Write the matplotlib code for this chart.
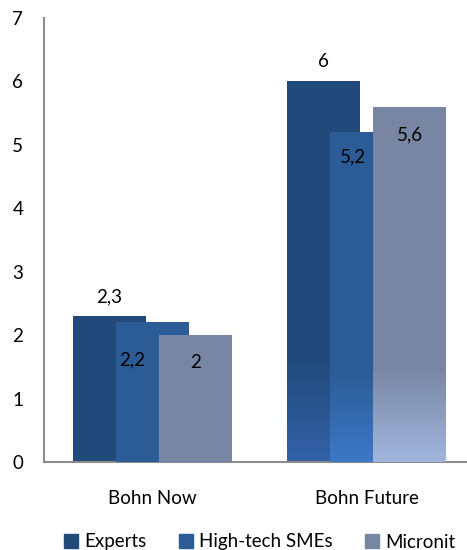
import numpy as np
import matplotlib
matplotlib.use("Agg")
import matplotlib.pyplot as plt
from matplotlib.colors import LinearSegmentedColormap
from matplotlib.patches import Patch

plt.rcParams['font.family'] = ['Lato', 'DejaVu Sans']

categories = ['Bohn Now', 'Bohn Future']
series = ['Experts', 'High-tech SMEs', 'Micronit']
experts = [2.3, 6.0]
smes = [2.2, 5.2]
micronit = [2.0, 5.6]
labels = [['2,3', '6'], ['2,2', '5,2'], ['2', '5,6']]

colors = ['#214a7b', '#2c5c96', '#7886a3']
bottom_colors = ['#3362a8', '#3d78c6', '#a2b5dd']
# label offsets in points (dx, dy) relative to bar top centre
label_off = [[(0, 14), (0, 14)], [(-15, -27), (-10, -18)], [(0, -20), (0, -20)]]

fig = plt.figure(figsize=(4.67, 5.5), dpi=100)
ax = fig.add_axes([44 / 467, 88 / 550, 431 / 467, 444 / 550])

x = np.arange(len(categories))
width = 0.341
step = 0.203
values = [experts, smes, micronit]
fs = 13.5

for i, vals in enumerate(values):
    pos = x + (i - 1) * step
    bars = ax.bar(pos, vals, width, color=colors[i], zorder=2 + i)
    for j, b in enumerate(bars):
        if j == 1:
            # gradient near the bottom of the tall bars
            cmap = LinearSegmentedColormap.from_list('g', [bottom_colors[i], colors[i]])
            h = b.get_height()
            grad = np.linspace(0, 1, 100).reshape(-1, 1)
            im = ax.imshow(grad, extent=(b.get_x(), b.get_x() + width, 0, h * 0.27),
                           origin='lower', aspect='auto', cmap=cmap, zorder=2 + i)
            im.set_clip_path(b)
        dx, dy = label_off[i][j]
        ax.annotate(labels[i][j], (pos[j], vals[j]), xytext=(dx, dy),
                    textcoords='offset points', ha='center', va='center',
                    fontsize=fs, color='black', zorder=10)

ax.set_xlim(-0.507, 1.507)
ax.set_ylim(0, 7)
ax.set_yticks(range(8))
ax.set_xticks(x)
ax.set_xticklabels(categories)
ax.tick_params(axis='both', length=0, labelsize=fs)
ax.tick_params(axis='y', pad=15)
ax.tick_params(axis='x', pad=20)
for s in ['top', 'right']:
    ax.spines[s].set_visible(False)
for s in ['left', 'bottom']:
    ax.spines[s].set_color('#8c8c8c')
    ax.spines[s].set_linewidth(1.5)

handles = [Patch(color=c) for c in colors]
fig.legend(handles, series, loc='center left', bbox_to_anchor=(47 / 467, 1 - 542 / 550),
           ncol=3, frameon=False, fontsize=fs, handlelength=0.75, handleheight=0.75,
           handletextpad=0.35, columnspacing=1.7)

fig.savefig('out.png', dpi=100)
